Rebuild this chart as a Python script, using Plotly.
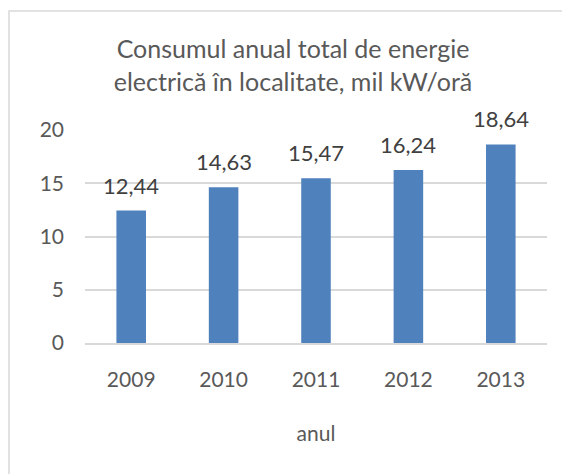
import plotly.graph_objects as go

# date
ani = ["2009", "2010", "2011", "2012", "2013"]
consum = [12.44, 14.63, 15.47, 16.24, 18.64]
etichete = ["12,44", "14,63", "15,47", "16,24", "18,64"]
y_ticks = [0, 5, 10, 15, 20]

FONT = "Lato, Carlito, Calibri, sans-serif"
GRI = "#595959"

fig = go.Figure()

fig.add_trace(
    go.Bar(
        x=ani,
        y=consum,
        marker=dict(color="#4F81BD", line=dict(width=0)),
        hoverinfo="x+y",
    )
)

# etichete de date deasupra barelor (x = indexul categoriei)
for i, (val, txt) in enumerate(zip(consum, etichete)):
    fig.add_annotation(
        x=i,
        y=val,
        xref="x",
        yref="y",
        text=txt,
        showarrow=False,
        yanchor="bottom",
        yshift=10,
        font=dict(family=FONT, size=22, color="#404040"),
    )

# chenarul diagramei
fig.add_shape(
    type="rect",
    xref="paper",
    yref="paper",
    x0=-0.1645,
    x1=1.2,
    y0=-0.8,
    y1=1.559,
    line=dict(color="#D9D9D9", width=1.5),
    fillcolor="rgba(0,0,0,0)",
    layer="below",
)

fig.update_layout(
    width=570,
    height=474,
    paper_bgcolor="white",
    plot_bgcolor="white",
    showlegend=False,
    bargap=0.68,
    margin=dict(l=77, r=31, t=122, b=139),
    font=dict(family=FONT, color=GRI),
    title=dict(
        text="Consumul anual total de energie<br>electrică în localitate, mil kW/oră",
        x=285 / 570,
        xanchor="center",
        y=1 - 50 / 474,
        yanchor="middle",
        font=dict(family=FONT, size=25, color=GRI),
    ),
)

fig.update_xaxes(
    type="category",
    range=[-0.5, 4.5],
    showline=True,
    linecolor="#D9D9D9",
    linewidth=1.5,
    ticks="",
    ticklabelstandoff=17,
    tickfont=dict(family=FONT, size=21, color=GRI),
    title=dict(text="anul", font=dict(family=FONT, size=21, color=GRI), standoff=36),
)

fig.update_yaxes(
    range=[0, 20],
    tickvals=y_ticks,
    showgrid=True,
    gridcolor="#D9D9D9",
    gridwidth=1.5,
    zeroline=False,
    showline=False,
    ticks="",
    ticklabelstandoff=20,
    tickfont=dict(family=FONT, size=21, color=GRI),
)

fig.write_html("out.html")
